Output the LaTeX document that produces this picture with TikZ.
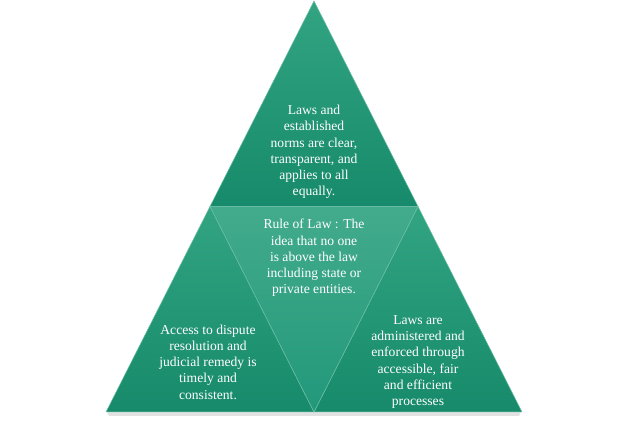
\documentclass[tikz,border=0pt]{standalone}
\usepackage{fontspec}
\setmainfont{Liberation Serif}
\usetikzlibrary{positioning,calc}
\definecolor{rlLight}{HTML}{32A482}
\definecolor{rlGreen}{HTML}{22987A}
\definecolor{rlDark}{HTML}{168A6A}
\definecolor{rlEdge}{HTML}{6DBFA5}
\tikzset{
  piece/.style={top color=rlLight, bottom color=rlDark, draw=rlEdge, line width=0.5pt, line join=miter},
  midpiece/.style={piece, top color=rlLight!92!white, bottom color=rlGreen},
  pieceshadow/.style={fill=black!25, opacity=0.45, draw=none},
  piecetext/.style={text=white, align=center, font=\fontsize{13.6}{16.2}\selectfont, inner sep=0pt}
}
\begin{document}
\begin{tikzpicture}[x=1pt, y=-1pt]
  \useasboundingbox (0,0) rectangle (622,422);
  % corners of the pyramid
  \coordinate (apex) at (314,1);
  \coordinate (bl) at (106,412);
  \coordinate (br) at (522,412);
  \coordinate (ml) at (210,206.5);
  \coordinate (mr) at (418,206.5);
  \coordinate (mb) at (314,412);
  % shadow under the base
  \fill[pieceshadow] ($(bl)+(1,0)$) -- ($(br)+(-1,0)$) -- ($(br)+(-3,4)$) -- ($(bl)+(3,4)$) -- cycle;
  % the four pieces
  \draw[piece] (apex) -- (mr) -- (ml) -- cycle;
  \draw[piece] (ml) -- (mb) -- (bl) -- cycle;
  \draw[piece] (mr) -- (br) -- (mb) -- cycle;
  \draw[midpiece] (ml) -- (mr) -- (mb) -- cycle;
  % texts
  \node[piecetext] (top) at (314,152) {Laws and\\established\\norms are clear,\\transparent, and\\applies to all\\equally.};
  \node[piecetext] (mid) at (314,258) {Rule of Law : The\\idea that no one\\is above the law\\including state or\\private entities.};
  \node[piecetext] (left) at (208,362) {Access to dispute\\resolution and\\judicial remedy is\\timely and\\consistent.};
  \node[piecetext] (right) at (418,362) {Laws are\\administered and\\enforced through\\accessible, fair\\and efficient\\processes};
\end{tikzpicture}
\end{document}
